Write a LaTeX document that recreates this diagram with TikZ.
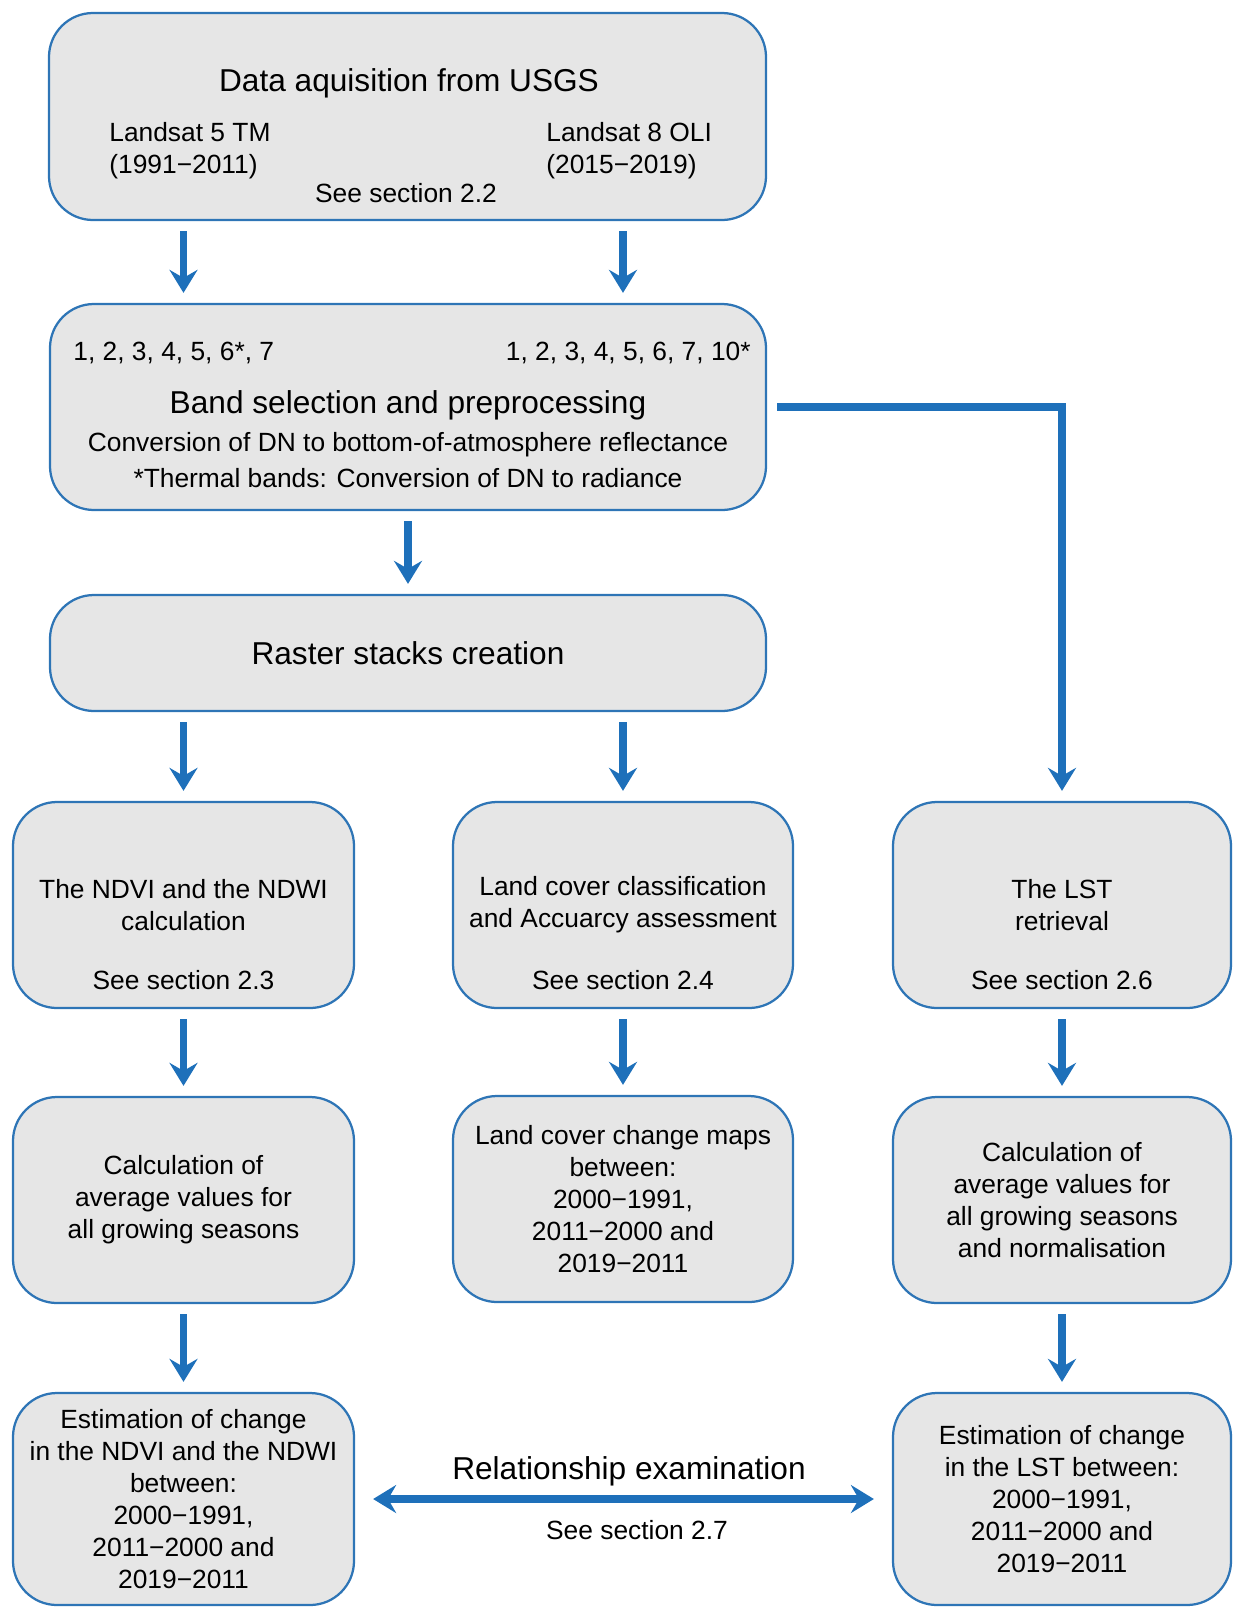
\documentclass[tikz,border=0pt]{standalone}
\usepackage{fontspec}
\setmainfont{Liberation Sans}
\usetikzlibrary{arrows.meta,positioning}
\definecolor{boxblue}{RGB}{46,117,182}
\definecolor{arrowblue}{RGB}{30,112,186}
\definecolor{boxgrey}{RGB}{230,230,230}

\begin{document}
\begin{tikzpicture}[x=0.2mm,y=-0.2mm,>={Stealth[length=4.6mm,width=5.6mm,inset=1.6mm]}]
\tikzstyle{every node}+=[inner sep=0pt]
\tikzstyle{stage}=[draw=boxblue, line width=0.45mm, fill=boxgrey, rounded corners=8.8mm, font=\fontsize{15}{18.2}\selectfont, align=center]
\tikzstyle{body}=[font=\fontsize{15}{18.2}\selectfont, align=center]
\tikzstyle{head}=[font=\fontsize{18}{21.6}\selectfont]
\tikzstyle{flow}=[draw=arrowblue, line width=1.5mm, ->, shorten <=2mm, shorten >=2mm]
\useasboundingbox (0,0) rectangle (1233,1608);
% data acquisition
\node [stage, minimum width=143.4mm, minimum height=41.4mm] (acq) at (407.5,116.5) {};
\node [head] (acqtitle) at (409,83) {Data aquisition from USGS};
\node [body, align=left, anchor=west] (tm) at (109,151) {Landsat 5 TM\\(1991\textminus2011)};
\node [body, align=left, anchor=west] (oli) at (546,151) {Landsat 8 OLI\\(2015\textminus2019)};
\node [body] (acqsee) at (406,193) {See section 2.2};
% band selection
\node [stage, minimum width=143.2mm, minimum height=41.2mm] (band) at (408,407) {};
\node [body, anchor=west] (tmbands) at (73,353) {1, 2, 3, 4, 5, 6*, 7};
\node [body, anchor=east] (olibands) at (751,353) {1, 2, 3, 4, 5, 6, 7, 10*};
\node [head] (bandtitle) at (408,405) {Band selection and preprocessing};
\node [body] (boa) at (408,445) {Conversion of DN to bottom-of-atmosphere reflectance};
\node [body] (thermal) at (408,478) {*Thermal bands: Conversion of DN to radiance};
% raster stacks
\node [stage, minimum width=143.2mm, minimum height=23.2mm, font=\fontsize{18}{21.6}\selectfont] (raster) at (408,653) {Raster stacks creation};
% three branches
\node [stage, minimum width=68.2mm, minimum height=41.2mm] (ndvi) at (183.5,905) {The NDVI and the NDWI\\calculation};
\node [body] (ndvisee) at (183.5,980) {See section 2.3};
\node [stage, minimum width=68mm, minimum height=41.2mm] (lc) at (623,905) {Land cover classification\\and Accuarcy assessment};
\node [body] (lcsee) at (623,980) {See section 2.4};
\node [stage, minimum width=67.6mm, minimum height=41.2mm] (lst) at (1062,905) {The LST\\retrieval};
\node [body] (lstsee) at (1062,980) {See section 2.6};
\node [stage, minimum width=68.2mm, minimum height=41.2mm] (ndviavg) at (183.5,1200) {Calculation of\\average values for\\all growing seasons};
\node [stage, minimum width=68mm, minimum height=41.2mm] (lcmaps) at (623,1199) {Land cover change maps\\between:\\2000\textminus1991,\\2011\textminus2000 and\\2019\textminus2011};
\node [stage, minimum width=67.6mm, minimum height=41.2mm] (lstavg) at (1062,1200) {Calculation of\\average values for\\all growing seasons\\and normalisation};
\node [stage, minimum width=68.2mm, minimum height=42.4mm] (ndvichange) at (183.5,1499) {Estimation of change\\in the NDVI and the NDWI\\between:\\2000\textminus1991,\\2011\textminus2000 and\\2019\textminus2011};
\node [stage, minimum width=67.6mm, minimum height=42.4mm] (lstchange) at (1062,1499) {Estimation of change\\in the LST between:\\2000\textminus1991,\\2011\textminus2000 and\\2019\textminus2011};
\node [head] (relation) at (629,1471) {Relationship examination};
\node [body] (relsee) at (637,1530) {See section 2.7};
% connectors
\draw [flow] (acq.south -| ndvi) -- (band.north -| ndvi);
\draw [flow] (acq.south -| lc) -- (band.north -| lc);
\draw [flow] (band) -- (raster);
\draw [flow] (band.east) -- (band.east -| lst) -- (lst);
\draw [flow] (raster.south -| ndvi) -- (ndvi);
\draw [flow] (raster.south -| lc) -- (lc);
\draw [flow] (ndvi) -- (ndviavg);
\draw [flow] (lc) -- (lcmaps);
\draw [flow] (lst) -- (lstavg);
\draw [flow] (ndviavg) -- (ndvichange);
\draw [flow] (lstavg) -- (lstchange);
\draw [flow, <->, shorten <=3.6mm, shorten >=3.6mm] (ndvichange) -- (lstchange);
\end{tikzpicture}
\end{document}
